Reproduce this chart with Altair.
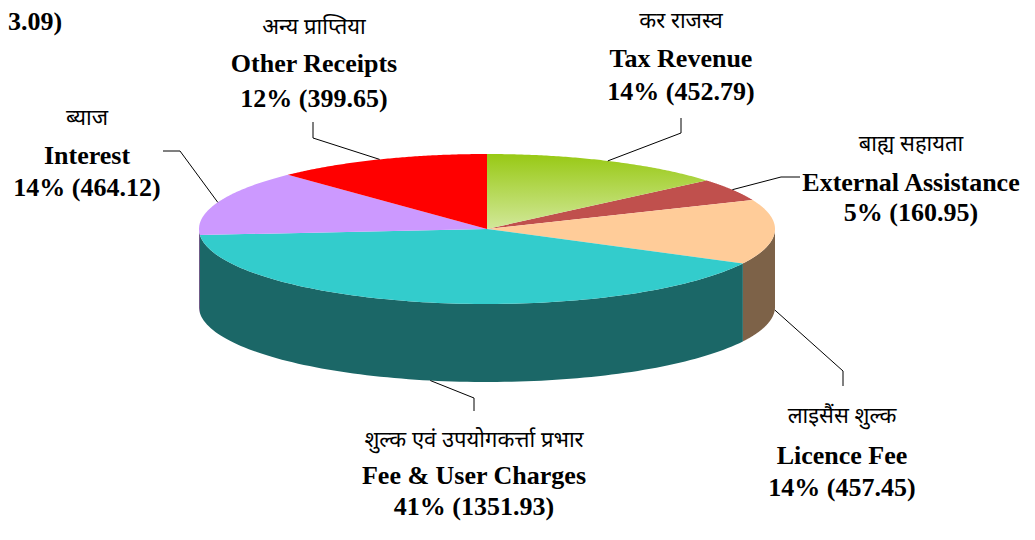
import altair as alt
import pandas as pd

# ---- data ----
categories = ["Tax Revenue", "External Assistance", "Licence Fee",
              "Fee & User Charges", "Interest", "Other Receipts"]
hindi = ["कर राजस्व", "बाह्य सहायता", "लाइसैंस शुल्क",
         "शुल्क एवं उपयोगकर्त्ता प्रभार", "ब्याज", "अन्य प्राप्तिया"]
values = [452.79, 160.95, 457.45, 1351.93, 464.12, 399.65]

# ---- styles ----
top_colors = ["#9BCB1A", "#C0504D", "#FFCC99", "#33CCCC", "#CC99FF", "#FF0000"]
side_colors = ["#5E7A10", "#7A3230", "#7D6248", "#1B6767", "#66507F", "#800000"]

# ---- layout (page pixels) ----
label_x = [681, 911, 842, 474, 87, 314]
hindi_y = [21, 144, 416, 440, 118, 27]
eng_y = [59, 183, 456, 476, 156, 64]
pct_y = [92, 213, 488, 507, 188, 99]
elbow_x = [681, 781, 843, 474, 180, 313]
elbow_y = [133, 177, 371, 398, 151, 138]
end_x = [681, 800, 843, 474, 163, 313]
end_y = [118, 177, 386, 411, 151, 122]

CX, CY, A, B, DEPTH = 487, 229, 288, 75, 78
N = 100
W, H = 1019, 524

df = pd.DataFrame({
    "idx": list(range(len(categories))),
    "cat": categories, "hindi": hindi, "value": values,
    "lx": label_x, "hy": hindi_y, "ey": eng_y, "py2": pct_y,
    "bx": elbow_x, "by": elbow_y, "fx": end_x, "fy": end_y,
})

xs = alt.Scale(domain=[8, 8 + W], nice=False, zero=False)
ys = alt.Scale(domain=[8, 8 + H], nice=False, zero=False, reverse=True)

base = (alt.Chart(df)
        .transform_joinaggregate(total="sum(value)")
        .transform_window(cum="sum(value)", sort=[alt.SortField("idx")], frame=[None, 0])
        .transform_calculate(
            t0="2*PI*(datum.cum - datum.value)/datum.total",
            t1="2*PI*datum.cum/datum.total"))

# front side walls
side = (base
        .transform_calculate(s0="max(datum.t0, PI/2)", s1="min(datum.t1, 3*PI/2)")
        .transform_filter("datum.s1 > datum.s0")
        .transform_calculate(steps=f"sequence(0, {2 * N + 2})")
        .transform_flatten(["steps"], as_=["step"])
        .transform_calculate(
            k=f"datum.step <= {N} ? datum.step : {2 * N + 1} - datum.step",
            th=f"datum.s0 + (datum.s1 - datum.s0) * datum.k / {N}",
            px=f"{CX} + {A} * sin(datum.th)",
            py=f"{CY} - {B} * cos(datum.th) + (datum.step > {N} ? {DEPTH} : 0)")
        .mark_line(filled=True, strokeWidth=0)
        .encode(x=alt.X("px:Q", scale=xs, axis=None),
                y=alt.Y("py:Q", scale=ys, axis=None),
                fill=alt.Fill("cat:N", scale=alt.Scale(domain=categories, range=side_colors), legend=None),
                order=alt.Order("step:Q")))

# top face sectors
top_base = (base
            .transform_calculate(steps=f"sequence(-1, {N + 1})")
            .transform_flatten(["steps"], as_=["step"])
            .transform_calculate(
                th=f"datum.t0 + (datum.t1 - datum.t0) * datum.step / {N}",
                px=f"datum.step < 0 ? {CX} : {CX} + {A} * sin(datum.th)",
                py=f"datum.step < 0 ? {CY} : {CY} - {B} * cos(datum.th)"))

top = (top_base
       .transform_filter(f"datum.cat != '{categories[0]}'")
       .mark_line(filled=True, strokeWidth=0)
       .encode(x=alt.X("px:Q", scale=xs, axis=None),
               y=alt.Y("py:Q", scale=ys, axis=None),
               color=alt.Color("cat:N", scale=alt.Scale(domain=categories, range=top_colors), legend=None),
               order=alt.Order("step:Q")))

green = (top_base
         .transform_filter(f"datum.cat == '{categories[0]}'")
         .mark_line(filled=True, strokeWidth=0,
                    fill=alt.Gradient(gradient="linear",
                                      stops=[alt.GradientStop(color="#98C914", offset=0),
                                             alt.GradientStop(color="#D2E89A", offset=1)],
                                      x1=0, x2=0, y1=0, y2=1))
         .encode(x=alt.X("px:Q", scale=xs, axis=None),
                 y=alt.Y("py:Q", scale=ys, axis=None),
                 order=alt.Order("step:Q")))

# leader lines
leaders = (base
           .transform_calculate(
               mid="(datum.t0 + datum.t1) / 2",
               ax=f"{CX} + {A} * sin(datum.mid)",
               ay=f"{CY} - {B} * cos(datum.mid) + (cos(datum.mid) < 0 ? {DEPTH} : 0)",
               steps="sequence(0, 3)")
           .transform_flatten(["steps"], as_=["step"])
           .transform_calculate(
               px="datum.step == 0 ? datum.ax : (datum.step == 1 ? datum.bx : datum.fx)",
               py="datum.step == 0 ? datum.ay : (datum.step == 1 ? datum.by : datum.fy)")
           .mark_line(color="black", strokeWidth=1)
           .encode(x=alt.X("px:Q", scale=xs, axis=None),
                   y=alt.Y("py:Q", scale=ys, axis=None),
                   detail="cat:N",
                   order=alt.Order("step:Q")))

hindi_txt = (alt.Chart(df)
             .mark_text(font="Noto Sans Devanagari, Noto Sans, sans-serif", fontSize=22,
                        color="black", align="center", baseline="middle")
             .encode(x=alt.X("lx:Q", scale=xs, axis=None),
                     y=alt.Y("hy:Q", scale=ys, axis=None),
                     text="hindi:N"))

eng_txt = (alt.Chart(df)
           .mark_text(font="Liberation Serif", fontSize=26, fontWeight="bold",
                      color="black", align="center", baseline="middle")
           .encode(x=alt.X("lx:Q", scale=xs, axis=None),
                   y=alt.Y("ey:Q", scale=ys, axis=None),
                   text="cat:N"))

pct_txt = (base
           .transform_calculate(
               pct="format(round(100 * datum.value / datum.total), 'd') + '% (' + format(datum.value, '.2f') + ')'")
           .mark_text(font="Liberation Serif", fontSize=26, fontWeight="bold",
                      color="black", align="center", baseline="middle")
           .encode(x=alt.X("lx:Q", scale=xs, axis=None),
                   y=alt.Y("py2:Q", scale=ys, axis=None),
                   text="pct:N"))

corner = (alt.Chart(pd.DataFrame({"t": ["3.09)"], "x": [8], "y": [22]}))
          .mark_text(font="Liberation Serif", fontSize=26, fontWeight="bold",
                     color="black", align="left", baseline="middle")
          .encode(x=alt.X("x:Q", scale=xs, axis=None),
                  y=alt.Y("y:Q", scale=ys, axis=None),
                  text="t:N"))

chart = (alt.layer(side, top, green, leaders, hindi_txt, eng_txt, pct_txt, corner)
         .resolve_scale(color="independent", fill="independent")
         .properties(width=W, height=H, padding=0, autosize="none")
         .configure_view(stroke=None))

chart.save("out.html", embed_options={"renderer": "svg", "actions": False})
